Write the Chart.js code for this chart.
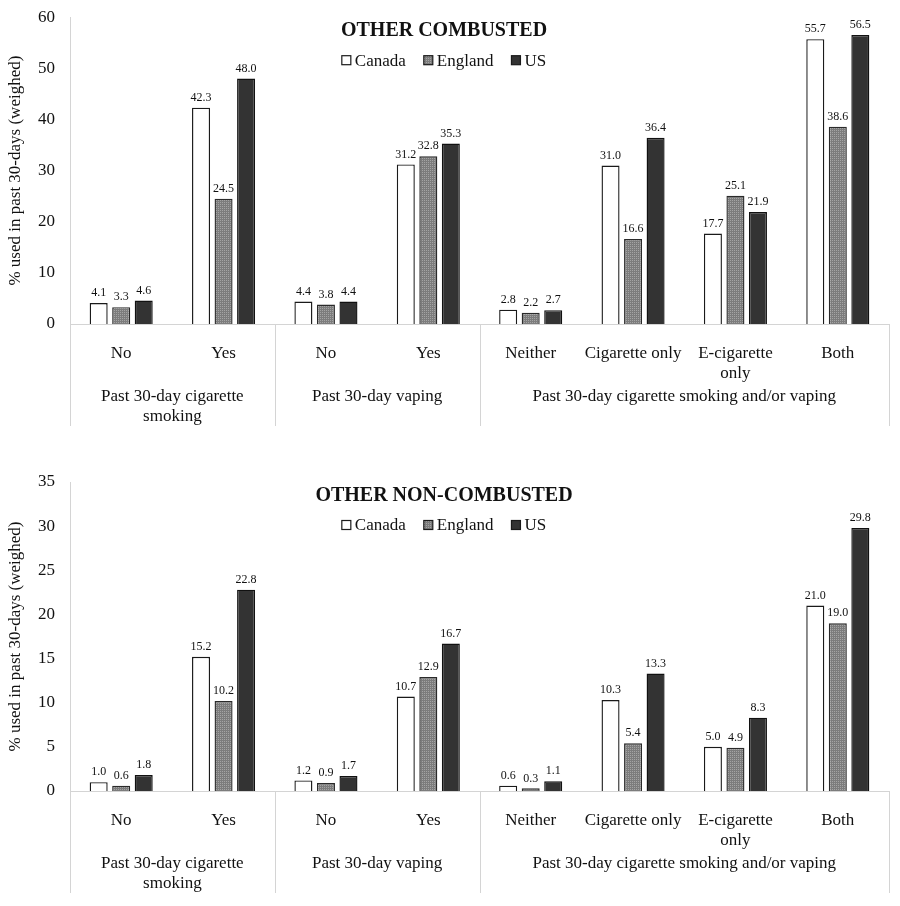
<!DOCTYPE html>
<html>
<head>
<meta charset="utf-8">
<script src="https://cdn.jsdelivr.net/npm/chart.js@4/dist/chart.umd.min.js"></script>
<style>
  body { margin: 0; background: #fff; }
  .box { width: 900px; height: 453px; }
</style>
</head>
<body>
<div class="box"><canvas id="combusted" width="900" height="453"></canvas></div>
<div class="box"><canvas id="nonCombusted" width="900" height="453"></canvas></div>
<script>
// Categories and groups (shared by both panels)
const categories = ["No", "Yes", "No", "Yes", "Neither", "Cigarette only", ["E-cigarette", "only"], "Both"];
const groupLabels = [["Past 30-day cigarette", "smoking"], ["Past 30-day vaping"], ["Past 30-day cigarette smoking and/or vaping"]];
const groupSizes = [2, 2, 4];
const countries = ["Canada", "England", "US"];

// Other combusted
const combustedCanada = [4.1, 42.3, 4.4, 31.2, 2.8, 31.0, 17.7, 55.7];
const combustedEngland = [3.3, 24.5, 3.8, 32.8, 2.2, 16.6, 25.1, 38.6];
const combustedUS = [4.6, 48.0, 4.4, 35.3, 2.7, 36.4, 21.9, 56.5];
const combustedTicks = { max: 60, step: 10 };

// Other non-combusted
const nonCombustedCanada = [1.0, 15.2, 1.2, 10.7, 0.6, 10.3, 5.0, 21.0];
const nonCombustedEngland = [0.6, 10.2, 0.9, 12.9, 0.3, 5.4, 4.9, 19.0];
const nonCombustedUS = [1.8, 22.8, 1.7, 16.7, 1.1, 13.3, 8.3, 29.8];
const nonCombustedTicks = { max: 35, step: 5 };

const FONT = '"Liberation Serif", "Times New Roman", serif';
const TEXT = "#111111";
const AXIS = "#d4d4d4";

// dotted gray fill used for England
function makePattern() {
  const c = document.createElement("canvas");
  c.width = 4; c.height = 4;
  const g = c.getContext("2d");
  g.fillStyle = "#7c7c7c";
  g.fillRect(0, 0, 4, 4);
  g.fillStyle = "#a4a4a4";
  g.fillRect(0, 0, 1, 1); g.fillRect(2, 2, 1, 1);
  g.fillRect(2, 0, 1, 1); g.fillRect(0, 2, 1, 1);
  return g.createPattern(c, "repeat");
}
const englandFill = makePattern();
const fills = ["#ffffff", englandFill, "#333333"];
const borders = ["#1a1a1a", "#2a2a2a", "#111111"];

// Title, legend, value labels and the grouped category boxes
const decorPlugin = {
  id: "decor",
  afterDatasetsDraw(chart) {
    const ctx = chart.ctx;
    ctx.save();
    ctx.font = "12px " + FONT;
    ctx.fillStyle = TEXT;
    ctx.textAlign = "center";
    ctx.textBaseline = "bottom";
    chart.data.datasets.forEach((ds, i) => {
      chart.getDatasetMeta(i).data.forEach((bar, j) => {
        ctx.fillText(ds.data[j].toFixed(1), bar.x, bar.y - 4);
      });
    });
    ctx.restore();
  },
  afterDraw(chart, args, opts) {
    const ctx = chart.ctx;
    const area = chart.chartArea;
    const x = chart.scales.x;
    const cx = 444;
    ctx.save();

    // title
    ctx.fillStyle = TEXT;
    ctx.font = "bold 20px " + FONT;
    ctx.textAlign = "center";
    ctx.textBaseline = "middle";
    ctx.fillText(opts.title, cx, area.top + 14);

    // legend
    ctx.font = "17px " + FONT;
    const box = 9, gapText = 4, gapItem = 18;
    const widths = countries.map(c => box + gapText + ctx.measureText(c).width);
    const total = widths.reduce((a, b) => a + b, 0) + gapItem * (countries.length - 1);
    let lx = cx - total / 2;
    const ly = area.top + 43;
    ctx.textAlign = "left";
    countries.forEach((c, i) => {
      ctx.fillStyle = fills[i];
      ctx.fillRect(lx, ly - box / 2, box, box);
      ctx.strokeStyle = "#1a1a1a";
      ctx.lineWidth = 1.2;
      ctx.strokeRect(lx, ly - box / 2, box, box);
      ctx.fillStyle = TEXT;
      ctx.fillText(c, lx + box + gapText, ly + 1);
      lx += widths[i] + gapItem;
    });

    // group separators and labels under the axis
    const step = x.getPixelForValue(1) - x.getPixelForValue(0);
    const bottom = area.bottom + 102;
    ctx.strokeStyle = AXIS;
    ctx.lineWidth = 1;
    let start = 0;
    const edges = [area.left];
    groupSizes.forEach(n => {
      start += n;
      edges.push(x.getPixelForValue(start - 1) + step / 2);
    });
    edges.forEach(ex => {
      const px = Math.round(ex) + 0.5;
      ctx.beginPath();
      ctx.moveTo(px, area.bottom);
      ctx.lineTo(px, bottom);
      ctx.stroke();
    });
    ctx.fillStyle = TEXT;
    ctx.font = "17px " + FONT;
    ctx.textAlign = "center";
    groupLabels.forEach((lines, g) => {
      const mid = (edges[g] + edges[g + 1]) / 2;
      lines.forEach((t, k) => ctx.fillText(t, mid, area.bottom + 73 + k * 20));
    });
    ctx.restore();
  }
};

function makeChart(id, title, canada, england, us, ticks, pad) {
  const series = [canada, england, us];
  return new Chart(document.getElementById(id).getContext("2d"), {
    type: "bar",
    data: {
      labels: categories,
      datasets: countries.map((c, i) => ({
        label: c,
        data: series[i],
        backgroundColor: fills[i],
        borderColor: borders[i],
        borderWidth: 1.4,
        barPercentage: 0.8,
        categoryPercentage: 0.66
      }))
    },
    options: {
      responsive: false,
      animation: false,
      devicePixelRatio: 1,
      layout: { padding: pad },
      plugins: {
        legend: { display: false },
        tooltip: { enabled: false },
        decor: { title: title }
      },
      scales: {
        x: {
          grid: { display: false },
          border: { display: true, color: AXIS },
          ticks: {
            color: TEXT,
            font: { family: FONT, size: 17, lineHeight: 1.2 },
            padding: 11,
            maxRotation: 0,
            autoSkip: false
          },
          afterFit(s) { s.height = 102; }
        },
        y: {
          min: 0,
          max: ticks.max,
          grid: { display: false },
          border: { display: true, color: AXIS },
          ticks: {
            stepSize: ticks.step,
            color: TEXT,
            font: { family: FONT, size: 17 },
            padding: 7
          },
          title: {
            display: true,
            text: "% used in past 30-days (weighed)",
            color: TEXT,
            font: { family: FONT, size: 17 },
            padding: { top: 5, bottom: 0 }
          },
          afterFit(s) { s.width = 70; }
        }
      }
    },
    plugins: [decorPlugin]
  });
}

makeChart("combusted", "OTHER COMBUSTED", combustedCanada, combustedEngland, combustedUS,
  combustedTicks, { top: 15, right: 11, bottom: 27, left: 0 });
makeChart("nonCombusted", "OTHER NON-COMBUSTED", nonCombustedCanada, nonCombustedEngland, nonCombustedUS,
  nonCombustedTicks, { top: 29, right: 11, bottom: 13, left: 0 });
</script>
</body>
</html>
